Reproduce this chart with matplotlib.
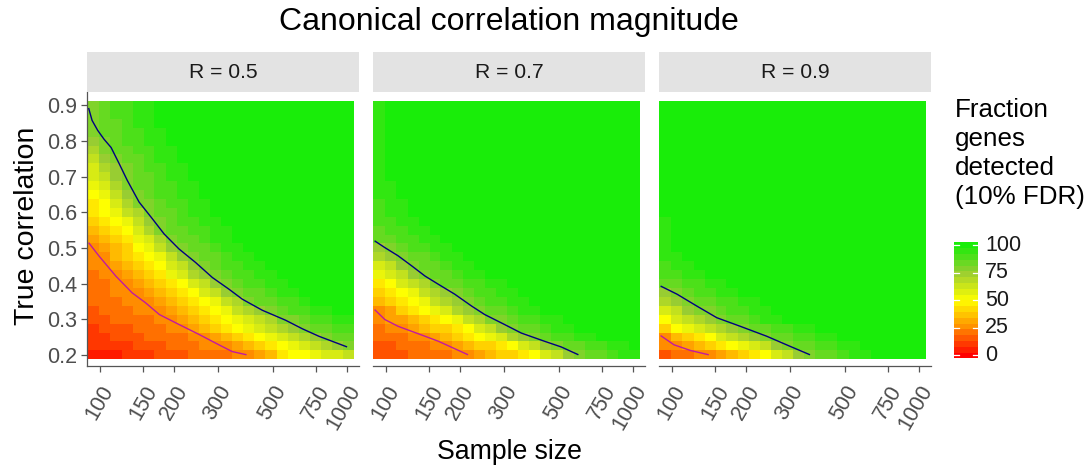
import numpy as np
import matplotlib
matplotlib.use("Agg")
import matplotlib.pyplot as plt
from matplotlib.colors import LinearSegmentedColormap, Normalize
from matplotlib.ticker import FixedLocator, NullLocator
from matplotlib.transforms import blended_transform_factory

plt.rcParams['font.family'] = ['Liberation Sans', 'DejaVu Sans']

# -------------------- datos --------------------
# centros de las columnas (tamaño muestral, escala log)
sample_size = [94, 105, 116, 129, 143, 158, 175, 195, 216, 239, 265, 294,
               326, 361, 401, 444, 492, 546, 605, 671, 744, 825, 914, 1013]
# filas (correlación verdadera)
true_corr = [0.2, 0.225, 0.25, 0.275, 0.3, 0.325, 0.35, 0.375, 0.4, 0.425,
             0.45, 0.475, 0.5, 0.525, 0.55, 0.575, 0.6, 0.625, 0.65, 0.675,
             0.7, 0.725, 0.75, 0.775, 0.8, 0.825, 0.85, 0.875, 0.9]
panel_titles = ["R = 0.5", "R = 0.7", "R = 0.9"]

# % de genes detectados, un caracter por celda: 0..K -> 0, 5, ..., 100
# filas de arriba (0.9) hacia abajo (0.2)
CODE = "0123456789ABCDEFGHIJK"
frac_r05 = [
    "GHIIJJKKKKKKKKKKKKKKKKKK",
    "GHIIJJKKKKKKKKKKKKKKKKKK",
    "GHHIJJKKKKKKKKKKKKKKKKKK",
    "GHHIIJJKKKKKKKKKKKKKKKKK",
    "FGHIIJJKKKKKKKKKKKKKKKKK",
    "EGHHIIJJKKKKKKKKKKKKKKKK",
    "DFGHHIJJKKKKKKKKKKKKKKKK",
    "CEFGHIIJJKKKKKKKKKKKKKKK",
    "CDFGHHIJJKKKKKKKKKKKKKKK",
    "BCEGHHIIJJKKKKKKKKKKKKKK",
    "ABDFGHIIJJKKKKKKKKKKKKKK",
    "9ACEGGHIIJJKKKKKKKKKKKKK",
    "9ABDEGHHIJJKKKKKKKKKKKKK",
    "89ABDFGHIIJJKKKKKKKKKKKK",
    "789ACEGHHIIJJKKKKKKKKKKK",
    "6789BCEGHHIJJKKKKKKKKKKK",
    "5678ABDFGHHIJJKKKKKKKKKK",
    "55789ABDFGHHIJJKKKKKKKKK",
    "556789ACDFGHIIJJKKKKKKKK",
    "4556789BCEFGHIIJJKKKKKKK",
    "44556789ACDFGHIIJJKKKKKK",
    "445556789ACDFGHHIJJKKKKK",
    "4445556789ABDEGHHIIJKKKK",
    "34445556789ABDEFGHIIJJKK",
    "334444556789ABCDEGGHIIJJ",
    "2333444556789ABCDEFGHHII",
    "223334444556789ABCDEFGHH",
    "22223334445556789ABCDEFG",
    "111222333444455679AABCCD",
]
frac_r07 = [
    "JKKKKKKKKKKKKKKKKKKKKKKK",
    "JKKKKKKKKKKKKKKKKKKKKKKK",
    "JKKKKKKKKKKKKKKKKKKKKKKK",
    "JKKKKKKKKKKKKKKKKKKKKKKK",
    "JKKKKKKKKKKKKKKKKKKKKKKK",
    "JKKKKKKKKKKKKKKKKKKKKKKK",
    "JKKKKKKKKKKKKKKKKKKKKKKK",
    "JKKKKKKKKKKKKKKKKKKKKKKK",
    "JKKKKKKKKKKKKKKKKKKKKKKK",
    "JJKKKKKKKKKKKKKKKKKKKKKK",
    "JJKKKKKKKKKKKKKKKKKKKKKK",
    "IJJKKKKKKKKKKKKKKKKKKKKK",
    "IJJKKKKKKKKKKKKKKKKKKKKK",
    "IIJJKKKKKKKKKKKKKKKKKKKK",
    "HIIJJKKKKKKKKKKKKKKKKKKK",
    "HHIIJJKKKKKKKKKKKKKKKKKK",
    "FGHIIJJKKKKKKKKKKKKKKKKK",
    "EFGHHIJJKKKKKKKKKKKKKKKK",
    "CDFGHHIJJKKKKKKKKKKKKKKK",
    "BCDFGHHIJJKKKKKKKKKKKKKK",
    "9ACDEGHHIIJJKKKKKKKKKKKK",
    "89ABDEFGHIIJJKKKKKKKKKKK",
    "789ABDEFGHIIJJKKKKKKKKKK",
    "5689ABCEFGHHIJJKKKKKKKKK",
    "566789ABDEGGHIIJJKKKKKKK",
    "45567889ACDFGHHIJJKKKKKK",
    "444556789ABCEFGHIIJJKKKK",
    "334445567889ACDFGHHIIJJK",
    "33344445567889ACDFGHHIJJ",
]
frac_r09 = [
    "KKKKKKKKKKKKKKKKKKKKKKKK",
    "KKKKKKKKKKKKKKKKKKKKKKKK",
    "KKKKKKKKKKKKKKKKKKKKKKKK",
    "KKKKKKKKKKKKKKKKKKKKKKKK",
    "KKKKKKKKKKKKKKKKKKKKKKKK",
    "KKKKKKKKKKKKKKKKKKKKKKKK",
    "KKKKKKKKKKKKKKKKKKKKKKKK",
    "KKKKKKKKKKKKKKKKKKKKKKKK",
    "KKKKKKKKKKKKKKKKKKKKKKKK",
    "KKKKKKKKKKKKKKKKKKKKKKKK",
    "KKKKKKKKKKKKKKKKKKKKKKKK",
    "KKKKKKKKKKKKKKKKKKKKKKKK",
    "KKKKKKKKKKKKKKKKKKKKKKKK",
    "JKKKKKKKKKKKKKKKKKKKKKKK",
    "JKKKKKKKKKKKKKKKKKKKKKKK",
    "JKKKKKKKKKKKKKKKKKKKKKKK",
    "JKKKKKKKKKKKKKKKKKKKKKKK",
    "JJKKKKKKKKKKKKKKKKKKKKKK",
    "IJJKKKKKKKKKKKKKKKKKKKKK",
    "IIJJKKKKKKKKKKKKKKKKKKKK",
    "HHIIJJKKKKKKKKKKKKKKKKKK",
    "FGHIIJJKKKKKKKKKKKKKKKKK",
    "EFGHHIIJJKKKKKKKKKKKKKKK",
    "CDFGGHIIJJKKKKKKKKKKKKKK",
    "ACDEFGHHIJJKKKKKKKKKKKKK",
    "8ABCDEFGHHIIJJKKKKKKKKKK",
    "5789ACDEFGHHIIJJKKKKKKKK",
    "556789ABCDFGHHIIJJKKKKKK",
    "344556789ACDFGHHIJJKKKKK",
]

# curvas (azul marino y morado) por panel: tamaño muestral, correlación
navy_n_05 = [90, 93, 98, 104, 111, 120, 129, 144, 163, 182, 209, 244, 285, 333, 377,
             454, 564, 659, 769, 1000]
navy_r_05 = [0.893, 0.858, 0.830, 0.805, 0.782, 0.735, 0.690, 0.629, 0.582, 0.539,
             0.497, 0.459, 0.417, 0.384, 0.356, 0.325, 0.297, 0.273, 0.252, 0.222]
purple_n_05 = [90, 99, 116, 135, 153, 174, 209, 252, 303, 343, 392]
purple_r_05 = [0.515, 0.478, 0.421, 0.374, 0.346, 0.313, 0.285, 0.257, 0.228, 0.209, 0.200]

navy_n_07 = [90, 99, 112, 127, 144, 163, 190, 222, 251, 302, 353, 438, 512, 601]
navy_r_07 = [0.520, 0.501, 0.478, 0.450, 0.421, 0.398, 0.370, 0.337, 0.313, 0.285,
             0.261, 0.238, 0.222, 0.200]
purple_n_07 = [90, 99, 112, 127, 144, 163, 190, 215]
purple_r_07 = [0.327, 0.299, 0.280, 0.266, 0.252, 0.238, 0.217, 0.200]

navy_n_09 = [90, 105, 126, 152, 189, 242, 300, 362]
navy_r_09 = [0.393, 0.370, 0.337, 0.304, 0.280, 0.252, 0.224, 0.200]
purple_n_09 = [90, 102, 119, 141]
purple_r_09 = [0.254, 0.228, 0.212, 0.200]

x_breaks = [100, 150, 200, 300, 500, 750, 1000]
y_breaks = [0.2, 0.3, 0.4, 0.5, 0.6, 0.7, 0.8, 0.9]
legend_breaks = [0, 25, 50, 75, 100]

# -------------------- estilo --------------------
W, H = 1091, 467
cmap = LinearSegmentedColormap.from_list(
    "rdylgn", ["#FF0000", "#FF8C00", "#FFFF00", "#9ACD32", "#19ED09"])
norm = Normalize(0, 100)
NAVY = "#000080"
PURPLE = "#C21AA0"
AXCOL = "#555555"
TICKLAB = "#4D4D4D"
TICK_FS = 15.5


def decode(rows):
    assert all(len(r) == len(sample_size) for r in rows), [len(r) for r in rows]
    assert len(rows) == len(true_corr)
    return np.array([[CODE.index(c) * 5 for c in r] for r in rows[::-1]], float)


def edges_log(c):
    lc = np.log10(c)
    mid = (lc[:-1] + lc[1:]) / 2
    return 10 ** np.concatenate([[2 * lc[0] - mid[0]], mid, [2 * lc[-1] - mid[-1]]])


def edges_lin(c):
    c = np.asarray(c)
    mid = (c[:-1] + c[1:]) / 2
    return np.concatenate([[2 * c[0] - mid[0]], mid, [2 * c[-1] - mid[-1]]])


x_edges = edges_log(sample_size)
y_edges = edges_lin(true_corr)
grids = [decode(frac_r05), decode(frac_r07), decode(frac_r09)]
curves = [
    (navy_n_05, navy_r_05, purple_n_05, purple_r_05),
    (navy_n_07, navy_r_07, purple_n_07, purple_r_07),
    (navy_n_09, navy_r_09, purple_n_09, purple_r_09),
]

fig = plt.figure(figsize=(W / 100, H / 100), dpi=100)

def px(x0, y0, x1, y1):
    # caja en pixeles (origen arriba-izquierda) -> fracción de figura
    return [x0 / W, 1 - y1 / H, (x1 - x0) / W, (y1 - y0) / H]

panel_left = [87.3, 373.3, 659.3]
panel_w = 272
top, bottom = 92.3, 366.0
strip_top = 52.0

xlo = x_edges[0]
xhi = x_edges[-1] * 10 ** (5.3 / 247.7)

for k in range(3):
    x0 = panel_left[k]
    ax = fig.add_axes(px(x0, top, x0 + panel_w, bottom))
    ax.set_xscale('log')
    ax.pcolormesh(x_edges, y_edges, grids[k], cmap=cmap, norm=norm,
                  shading='flat', linewidth=0, antialiased=False)
    nn, nr, pn, pr = curves[k]
    ax.plot(nn, nr, color=NAVY, lw=1.0, solid_capstyle='butt')
    ax.plot(pn, pr, color=PURPLE, lw=1.0, solid_capstyle='butt')
    ax.set_xlim(xlo, xhi)
    ax.set_ylim(0.1685, 0.937)

    ax.xaxis.set_major_locator(FixedLocator(x_breaks))
    ax.xaxis.set_minor_locator(NullLocator())
    ax.set_xticklabels([str(v) for v in x_breaks], rotation=60, ha='right',
                       va='top', rotation_mode='anchor')
    for s in ['top', 'right']:
        ax.spines[s].set_visible(False)
    ax.spines['bottom'].set_color(AXCOL)
    ax.spines['bottom'].set_linewidth(0.9)
    if k == 0:
        ax.set_yticks(y_breaks)
        ax.set_yticklabels([f"{v:.1f}" for v in y_breaks])
        ax.spines['left'].set_color(AXCOL)
        ax.spines['left'].set_linewidth(0.9)
    else:
        ax.set_yticks([])
        ax.spines['left'].set_visible(False)
    ax.tick_params(direction='out', length=4.3, width=0.9, color=AXCOL,
                   labelcolor=TICKLAB, labelsize=TICK_FS, pad=3)
    ax.tick_params(axis='x', pad=7)
    ax.yaxis.set_minor_locator(NullLocator())

    # tira del facet
    sax = fig.add_axes(px(x0, strip_top, x0 + panel_w, top))
    sax.set_facecolor("#E3E3E3")
    sax.set_xticks([]); sax.set_yticks([])
    for s in sax.spines.values():
        s.set_visible(False)
    sax.text(0.5, 0.5, panel_titles[k], ha='center', va='center',
             fontsize=15.2, color="#1A1A1A", transform=sax.transAxes)

# títulos
fig.text(509 / W, 1 - 22 / H, "Canonical correlation magnitude",
         ha='center', va='center', fontsize=23)
fig.text(509 / W, 1 - 452 / H, "Sample size", ha='center', va='center',
         fontsize=19.2)
fig.text(27 / W, 1 - 226 / H, "True correlation", ha='center', va='center',
         rotation=90, fontsize=20.5)

# leyenda (barra de color)
fig.text(955 / W, 1 - 98 / H, "Fraction\ngenes\ndetected\n(10% FDR)",
         ha='left', va='top', fontsize=18.7, linespacing=1.27)
cax = fig.add_axes(px(954, 242.3, 978, 358.3))
nbin = 20
half = 100 / (nbin - 1) / 2
bin_vals = np.linspace(0, 100, nbin)
cb_edges = np.linspace(-half, 100 + half, nbin + 1)
cax.pcolormesh([0, 1], cb_edges, bin_vals[:, None], cmap=cmap, norm=norm,
               shading='flat', linewidth=0, antialiased=False)
cax.set_xlim(0, 1)
cax.set_ylim(-half, 100 + half)
cax.axis('off')
tr = blended_transform_factory(cax.transAxes, cax.transData)
for v in legend_breaks:
    cax.plot([0, 0.2], [v, v], color='white', lw=0.9)
    cax.plot([0.8, 1], [v, v], color='white', lw=0.9)
    cax.text(1.3, v, str(v), transform=tr, ha='left', va='center',
             fontsize=TICK_FS, color="#1A1A1A")

fig.savefig("out.png", dpi=100)
